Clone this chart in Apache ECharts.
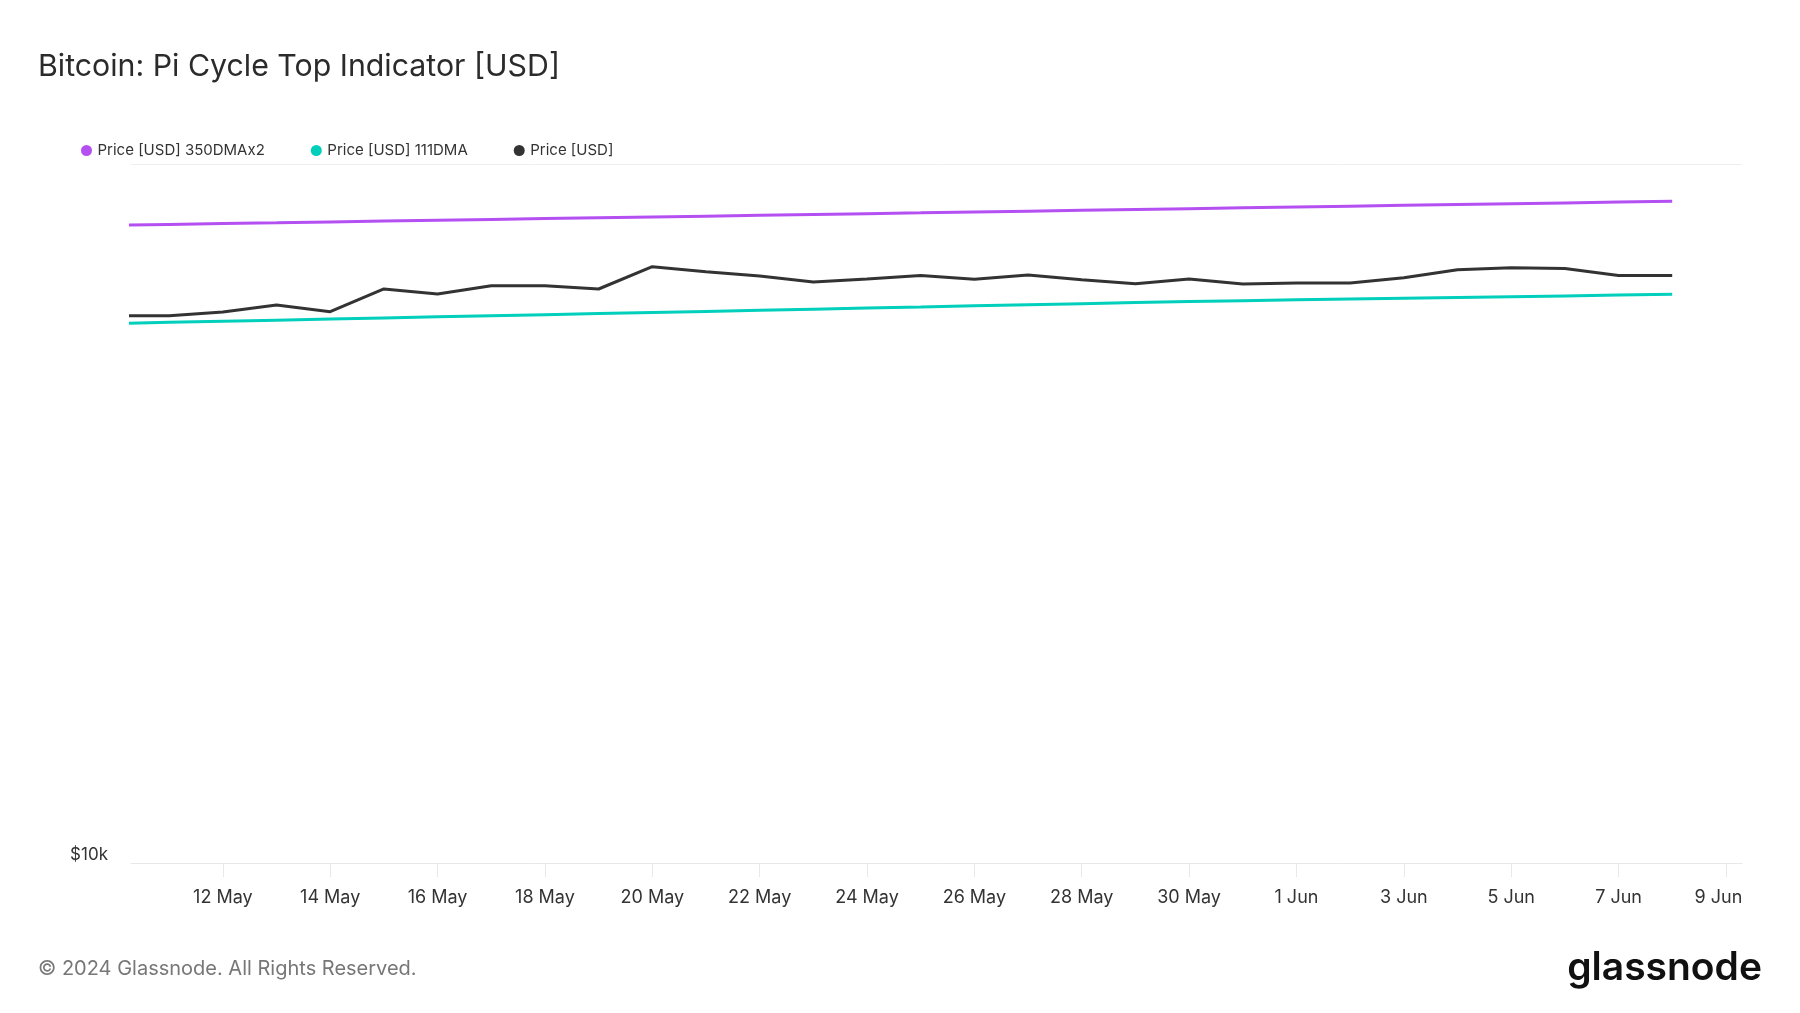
<!DOCTYPE html>
<html>
<head>
<meta charset="utf-8">
<script src="https://cdn.jsdelivr.net/npm/echarts@6/dist/echarts.min.js"></script>
<style>
  html, body { margin: 0; padding: 0; background: #fff; }
  #chart { width: 1800px; height: 1013px; }
</style>
</head>
<body>
<div id="chart"></div>
<script>
// ---- data ----
const dates = [
  '2024-05-10','2024-05-11','2024-05-12','2024-05-13','2024-05-14','2024-05-15',
  '2024-05-16','2024-05-17','2024-05-18','2024-05-19','2024-05-20','2024-05-21',
  '2024-05-22','2024-05-23','2024-05-24','2024-05-25','2024-05-26','2024-05-27',
  '2024-05-28','2024-05-29','2024-05-30','2024-05-31','2024-06-01','2024-06-02',
  '2024-06-03','2024-06-04','2024-06-05','2024-06-06','2024-06-07','2024-06-08'
];
const ma350x2 = [
  81740, 81960, 82190, 82410, 82640, 82860, 83090, 83310, 83540, 83770,
  83990, 84220, 84450, 84680, 84910, 85140, 85380, 85610, 85840, 86080,
  86310, 86550, 86780, 87020, 87260, 87490, 87730, 87970, 88210, 88450
];
const ma111 = [
  59150, 59360, 59580, 59790, 60010, 60230, 60440, 60660, 60880, 61100,
  61320, 61540, 61770, 61990, 62220, 62440, 62670, 62900, 63130, 63360,
  63590, 63750, 63920, 64080, 64250, 64420, 64590, 64760, 64930, 65100
];
const price = [
  60660, 60660, 61400, 62840, 61480, 66250, 65180, 66960, 66940, 66250,
  71310, 70130, 69160, 67810, 68480, 69240, 68400, 69400, 68320, 67420,
  68480, 67340, 67570, 67570, 68760, 70610, 71070, 70850, 69240, 69240
];
const xTickDates = [
  '2024-05-12','2024-05-14','2024-05-16','2024-05-18','2024-05-20','2024-05-22',
  '2024-05-24','2024-05-26','2024-05-28','2024-05-30','2024-06-01','2024-06-03',
  '2024-06-05','2024-06-07','2024-06-09'
];
const seriesNames = ['Price [USD] 350DMAx2', 'Price [USD] 111DMA', 'Price [USD]'];
const yTickLabels = { 10000: '$10k' };

// ---- helpers ----
const DAY = 86400000;
const t0 = Date.UTC(2024, 4, 10);
const toIdx = s => (Date.parse(s + 'T00:00:00Z') - t0) / DAY;
const MONTHS = ['Jan','Feb','Mar','Apr','May','Jun','Jul','Aug','Sep','Oct','Nov','Dec'];
const tickIdx = xTickDates.map(toIdx);
const lastTick = tickIdx[tickIdx.length - 1];
const idxLabel = v => {
  const d = new Date(t0 + Math.round(v) * DAY);
  const s = d.getUTCDate() + ' ' + MONTHS[d.getUTCMonth()];
  return Math.abs(v - lastTick) < 1e-6 ? '{last|' + s + '}' : s;
};
const pairs = arr => dates.map((d, i) => [toIdx(d), arr[i]]);

const FONT = 'Inter';
const chart = echarts.init(document.getElementById('chart'), null, { renderer: 'canvas' });

chart.setOption({
  backgroundColor: '#ffffff',
  animation: false,
  textStyle: { fontFamily: FONT },
  grid: { left: 131, right: 58, top: 164, bottom: 150, containLabel: false },
  legend: {
    left: 81, top: 143, padding: 0,
    icon: 'circle', itemWidth: 12, itemHeight: 11, itemGap: 46,
    textStyle: { fontFamily: FONT, fontSize: 15, color: '#333333' },
    data: seriesNames
  },
  graphic: [
    { type: 'text', left: 38, top: 52,
      style: { text: 'Bitcoin: Pi Cycle Top Indicator [USD]', font: '400 30.3px Inter', fill: '#2b2b2b' } },
    { type: 'text', left: 38, top: 959,
      style: { text: '\u00a9 2024 Glassnode. All Rights Reserved.', font: '400 20px Inter', fill: '#777777' } },
    { type: 'text', right: 38, top: 949,
      style: { text: 'glassnode', font: '600 39px Inter', fill: '#111111' } }
  ],
  xAxis: {
    type: 'value',
    min: 0.289, max: 30.3,
    axisLine: { show: true, lineStyle: { color: '#e8e8e8', width: 1 } },
    axisTick: { show: true, customValues: tickIdx, length: 14, lineStyle: { color: '#e8e8e8' } },
    axisLabel: { customValues: tickIdx, formatter: idxLabel, margin: 26,
                 fontFamily: FONT, fontSize: 18, color: '#333333',
                 rich: { last: { fontFamily: FONT, fontSize: 18, color: '#333333', padding: [0, 15, 0, 0] } } },
    splitLine: { show: false }
  },
  yAxis: {
    type: 'log', logBase: 10, min: 10000, max: 100000,
    axisLine: { show: false }, axisTick: { show: false },
    axisLabel: { formatter: v => yTickLabels[v] || '', verticalAlign: 'bottom', margin: 23,
                 fontFamily: FONT, fontSize: 17, color: '#333333' },
    splitLine: { show: true, lineStyle: { color: '#eeeeee', width: 1 } }
  },
  series: [
    { name: seriesNames[0], type: 'line', data: pairs(ma350x2), showSymbol: false,
      lineStyle: { width: 3, color: '#b44ff2' }, itemStyle: { color: '#b44ff2' } },
    { name: seriesNames[1], type: 'line', data: pairs(ma111), showSymbol: false,
      lineStyle: { width: 3, color: '#00cfbc' }, itemStyle: { color: '#00cfbc' } },
    { name: seriesNames[2], type: 'line', data: pairs(price), showSymbol: false,
      lineStyle: { width: 3, color: '#333333' }, itemStyle: { color: '#333333' } }
  ]
});
</script>
</body>
</html>
